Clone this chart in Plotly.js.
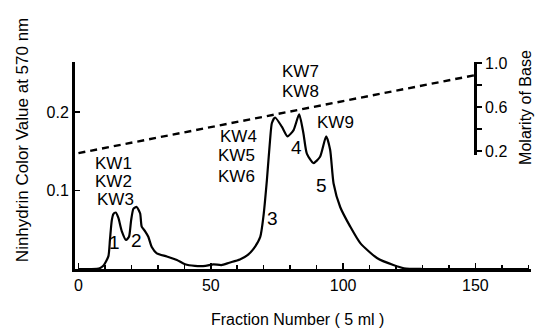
<!DOCTYPE html>
<html>
<head>
<meta charset="utf-8">
<script src="https://cdn.plot.ly/plotly-3.0.1.min.js"></script>
<style>
html,body{margin:0;padding:0;background:#fff;}
#chart{width:538px;height:329px;}
</style>
</head>
<body>
<div id="chart"></div>
<script>
// Elution profile: fraction number vs ninhydrin colour value (570 nm)
const fraction = [0, 5, 8, 9.4, 11.3, 11.9, 12.6, 13.2, 14.1, 15.1, 16.4, 18, 19.1, 19.9, 20.8, 22, 23.3, 23.9, 25.2, 26.4, 27.7, 29.6, 33.4, 37.2, 40.3, 44, 48, 51, 54, 57, 61, 64, 66, 68.7, 69.9, 71.2, 72.4, 73.1, 74.3, 76.9, 79, 81.3, 83.4, 85, 86.3, 88.8, 91.3, 93.6, 95.1, 96.4, 98.9, 102.7, 106.5, 112.8, 119, 123, 130, 170];
const ninhydrin = [0, 0, 0.001, 0.004, 0.016, 0.037, 0.062, 0.070, 0.072, 0.065, 0.048, 0.037, 0.041, 0.062, 0.077, 0.079, 0.071, 0.054, 0.048, 0.041, 0.028, 0.020, 0.016, 0.0115, 0.006, 0.004, 0.004, 0.006, 0.005, 0.008, 0.012, 0.018, 0.025, 0.041, 0.067, 0.113, 0.164, 0.186, 0.193, 0.181, 0.169, 0.177, 0.197, 0.173, 0.147, 0.135, 0.143, 0.169, 0.152, 0.109, 0.079, 0.054, 0.033, 0.014, 0.005, 0.001, 0, 0];

// Base gradient (molarity, right axis)
const gradientFraction = [0, 150];
const gradientMolarity = [0.18, 0.89];

// Peak / compound labels
const labelText = ["KW1", "KW2", "KW3", "1", "2", "KW4", "KW5", "KW6", "KW7", "KW8", "KW9", "3", "4", "5"];
const labelX =    [5.5, 5.5, 6.3, 13.8, 22.1, 52.9, 52.0, 52.0, 76.2, 76.2, 89.5, 73.2, 82.3, 91.7];
const labelY =    [0.134, 0.111, 0.088, 0.034, 0.036, 0.169, 0.144, 0.118, 0.251, 0.226, 0.186, 0.064, 0.155, 0.106];
const labelIsPeakNo = [false, false, false, true, true, false, false, false, false, false, false, true, true, true];

const FONT = "Liberation Sans, Arial, sans-serif";

const traces = [
  {
    x: fraction, y: ninhydrin, type: "scatter", mode: "lines",
    line: {color: "#000", width: 2.2, shape: "spline", smoothing: 0.6},
    xaxis: "x", yaxis: "y", hoverinfo: "none"
  },
  {
    x: gradientFraction, y: gradientMolarity, type: "scatter", mode: "lines",
    line: {color: "#000", width: 2.4, dash: "7px,5px"},
    xaxis: "x", yaxis: "y2", hoverinfo: "none"
  }
];

const annotations = labelText.map((t, i) => ({
  text: t, x: labelX[i], y: labelY[i], xref: "x", yref: "y",
  showarrow: false,
  xanchor: labelIsPeakNo[i] ? "center" : "left", yanchor: "middle",
  font: {family: FONT, size: labelIsPeakNo[i] ? 19 : 17, color: "#000"}
}));

annotations.push(
  {text: "Ninhydrin Color Value at 570 nm", xref: "paper", yref: "paper",
   x: -0.116, y: 0.623, textangle: -90, showarrow: false,
   xanchor: "center", yanchor: "middle", font: {family: FONT, size: 17, color: "#000"}},
  {text: "Molarity of Base", xref: "paper", yref: "paper",
   x: 0.989, y: 0.783, textangle: -90, showarrow: false,
   xanchor: "center", yanchor: "middle", font: {family: FONT, size: 16, color: "#000"}},
  {text: "Fraction Number ( 5 ml )", xref: "paper", yref: "paper",
   x: 0.487, y: -0.246, showarrow: false,
   xanchor: "center", yanchor: "middle", font: {family: FONT, size: 16, color: "#000"}}
);

const layout = {
  width: 538, height: 329,
  margin: {l: 75, r: 7, t: 62, b: 60},
  paper_bgcolor: "#fff", plot_bgcolor: "rgba(0,0,0,0)",
  showlegend: false,
  font: {family: FONT, size: 16, color: "#000"},
  xaxis: {
    range: [-1.3, 171], showgrid: false, zeroline: false,
    showline: true, linewidth: 3, linecolor: "#000",
    tickmode: "linear", tick0: 0, dtick: 50,
    ticks: "inside", ticklen: 6, tickwidth: 1.5, tickcolor: "#000",
    minor: {dtick: 10, tick0: 0, ticks: "inside", ticklen: 4, tickwidth: 1.5, tickcolor: "#000"},
    tickfont: {family: FONT, size: 16, color: "#000"}
  },
  yaxis: {
    range: [0, 0.2637], showgrid: false, zeroline: false,
    showline: true, linewidth: 3, linecolor: "#000",
    tickmode: "array", tickvals: [0.1, 0.2], tickformat: ".1f",
    ticks: "inside", ticklen: 5, tickwidth: 1.5, tickcolor: "#000",
    tickfont: {family: FONT, size: 16, color: "#000"}
  },
  yaxis2: {
    domain: [0.5507, 1], range: [0.163, 1.009],
    anchor: "free", position: 0.877, side: "right",
    showgrid: false, zeroline: false,
    showline: true, linewidth: 3, linecolor: "#000",
    tickmode: "linear", tick0: 0.2, dtick: 0.4, tickformat: ".1f",
    ticks: "outside", ticklen: 5, tickwidth: 1.5, tickcolor: "#000",
    minor: {dtick: 0.2, tick0: 0.2, ticks: "outside", ticklen: 5, tickwidth: 1.5, tickcolor: "#000"},
    tickfont: {family: FONT, size: 16, color: "#000"}
  },
  annotations: annotations
};

Plotly.newPlot("chart", traces, layout, {staticPlot: true, displayModeBar: false});
</script>
</body>
</html>
